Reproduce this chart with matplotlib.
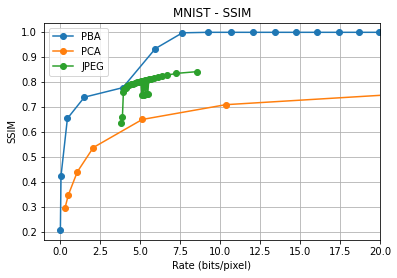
import numpy as np
import matplotlib.pyplot as plt

# PBA
pba_rate = [0.02, 0.06, 0.46, 1.52, 3.92, 5.96, 7.65, 9.27, 10.69, 12.08, 13.46,
            14.75, 16.08, 17.42, 18.71, 19.96, 21.3]
pba_ssim = [0.209, 0.424, 0.653, 0.738, 0.776, 0.932, 0.995, 0.997, 0.997, 0.997,
            0.997, 0.997, 0.997, 0.997, 0.997, 0.997, 0.997]

# PCA
pca_rate = [0.31, 0.52, 1.08, 2.08, 5.14, 10.36, 20.7, 41.5]
pca_ssim = [0.296, 0.348, 0.440, 0.537, 0.649, 0.708, 0.748, 0.83]

# JPEG
jpeg_rate = [3.79, 3.90, 3.96, 4.02, 4.10, 4.20, 4.32, 4.45, 4.58, 4.70, 4.82,
             4.95, 5.05, 5.12, 5.18, 5.22, 5.28, 5.35, 5.42, 5.48, 5.55, 5.70,
             5.90, 6.15, 6.40, 6.71, 7.27, 8.58]
jpeg_ssim = [0.633, 0.660, 0.758, 0.770, 0.776, 0.781, 0.785, 0.789, 0.792, 0.795,
             0.798, 0.800, 0.802, 0.745, 0.804, 0.747, 0.806, 0.752, 0.807, 0.749,
             0.809, 0.812, 0.815, 0.819, 0.822, 0.826, 0.833, 0.840]

fig = plt.figure(figsize=(397 / 72, 278 / 72), dpi=72)
ax = fig.add_axes([0.111, 0.137, 0.846, 0.781])

ax.plot(pba_rate, pba_ssim, 'o-', label='PBA')
ax.plot(pca_rate, pca_ssim, 'o-', label='PCA')
ax.plot(jpeg_rate, jpeg_ssim, 'o-', label='JPEG')

ax.set_xlim(-1, 20)
ax.set_ylim(0.168, 1.035)
ax.set_yticks(np.arange(0.2, 1.01, 0.1))
ax.grid(True)

ax.set_title('MNIST - SSIM')
ax.set_xlabel('Rate (bits/pixel)')
ax.set_ylabel('SSIM')
ax.legend(loc='upper left')

fig.savefig('out.png', dpi=72)
